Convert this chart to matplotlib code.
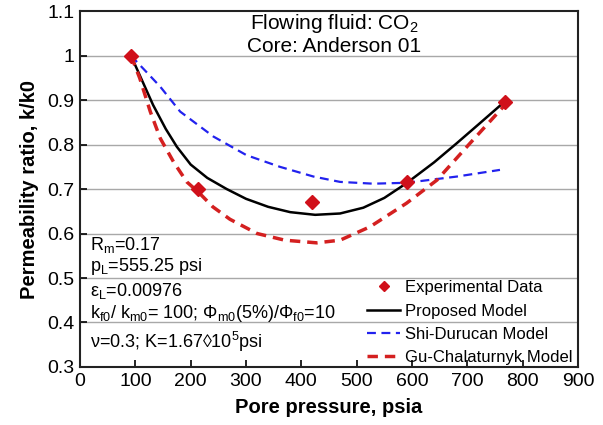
import matplotlib
matplotlib.use("Agg")
import matplotlib.pyplot as plt

plt.rcParams['font.family'] = ['Liberation Sans', 'DejaVu Sans']
plt.rcParams['mathtext.fontset'] = 'custom'
plt.rcParams['mathtext.rm'] = 'Liberation Sans'
plt.rcParams['mathtext.it'] = 'Liberation Sans:italic'
plt.rcParams['mathtext.default'] = 'regular'

# Experimental data
exp_x = [92, 213, 419, 591, 768]
exp_y = [1.0, 0.70, 0.67, 0.715, 0.895]

# Proposed model
prop_x = [92, 110, 132, 155, 175, 200, 230, 265, 300, 340, 380, 425, 470, 512, 550, 590, 640, 681, 720, 768]
prop_y = [1.0, 0.95, 0.889, 0.835, 0.795, 0.755, 0.725, 0.700, 0.678, 0.66, 0.648, 0.642, 0.645, 0.658, 0.68, 0.713, 0.76, 0.803, 0.845, 0.897]

# Shi-Durucan model
shi_x = [92, 145, 181, 241, 301, 361, 422, 470, 530, 590, 681, 759]
shi_y = [1.0, 0.930, 0.874, 0.818, 0.776, 0.75, 0.728, 0.716, 0.712, 0.714, 0.728, 0.743]

# Gu-Chalaturnyk model
gu_x = [92, 108, 127, 145, 169, 193, 214, 240, 271, 320, 370, 428, 470, 524, 590, 645, 705, 768]
gu_y = [1.0, 0.949, 0.874, 0.814, 0.761, 0.716, 0.693, 0.66, 0.632, 0.60, 0.585, 0.579, 0.585, 0.615, 0.668, 0.72, 0.803, 0.889]

x_ticks = [0, 100, 200, 300, 400, 500, 600, 700, 800, 900]
y_ticks = [0.3, 0.4, 0.5, 0.6, 0.7, 0.8, 0.9, 1.0, 1.1]
y_ticklabels = ['0.3', '0.4', '0.5', '0.6', '0.7', '0.8', '0.9', '1', '1.1']

fig = plt.figure(figsize=(6.03, 4.25), dpi=100)
ax = fig.add_axes([0.1327, 0.1365, 0.8258, 0.8375])

for yv in y_ticks[1:-1]:
    ax.axhline(yv, color='#a8a8a8', lw=1.0, zorder=0)

ax.plot(prop_x, prop_y, color='black', lw=1.8, label='Proposed Model', zorder=3)
ax.plot(shi_x, shi_y, color='#2222ee', lw=1.6, ls=(0, (4, 2.5)), label='Shi-Durucan Model', zorder=3)
ax.plot(gu_x, gu_y, color='#d42020', lw=2.5, ls=(0, (3, 2)), label='Gu-Chalaturnyk Model', zorder=3)
ax.plot(exp_x, exp_y, ls='none', marker='D', ms=7, color='#d0101a', label='Experimental Data', zorder=4)

ax.set_xlim(0, 900)
ax.set_ylim(0.3, 1.1)
ax.set_xticks(x_ticks)
ax.set_yticks(y_ticks)
ax.set_yticklabels(y_ticklabels)
ax.tick_params(direction='in', labelsize=14, length=5, width=1.2, pad=4)
for s in ax.spines.values():
    s.set_linewidth(1.5)
    s.set_color('#222222')

ax.set_xlabel('Pore pressure, psia', fontsize=14.5, fontweight='bold', labelpad=6)
ax.set_ylabel('Permeability ratio, k/k0', fontsize=14.5, fontweight='bold', labelpad=6)

ax.text(0.51, 0.965, 'Flowing fluid: CO$_2$', transform=ax.transAxes, ha='center', va='center', fontsize=15)
ax.text(0.51, 0.9, 'Core: Anderson 01', transform=ax.transAxes, ha='center', va='center', fontsize=15)

ann = [
    (245, 'R$_m$=0.17'),
    (266, 'p$_L$=555.25 psi'),
    (291, 'ε$_L$=0.00976'),
    (314, 'k$_{f0}$/ k$_{m0}$= 100; Φ$_{m0}$(5%)/Φ$_{f0}$=10'),
    (342, 'ν=0.3; K=1.67◊10$^5$psi'),
]
for py, t in ann:
    ax.text((90 - 80) / 498, (367 - py) / 356, t, transform=ax.transAxes, ha='left', va='center', fontsize=13)

handles, labels = ax.get_legend_handles_labels()
order = [3, 0, 1, 2]
leg = ax.legend([handles[i] for i in order], [labels[i] for i in order], loc='lower left',
                bbox_to_anchor=(0.576, 0.005), frameon=False, fontsize=12, borderpad=0,
                borderaxespad=0, handlelength=2.0, handletextpad=0.3, labelspacing=0.5,
                markerscale=0.7)

fig.savefig('out.png', dpi=100)
